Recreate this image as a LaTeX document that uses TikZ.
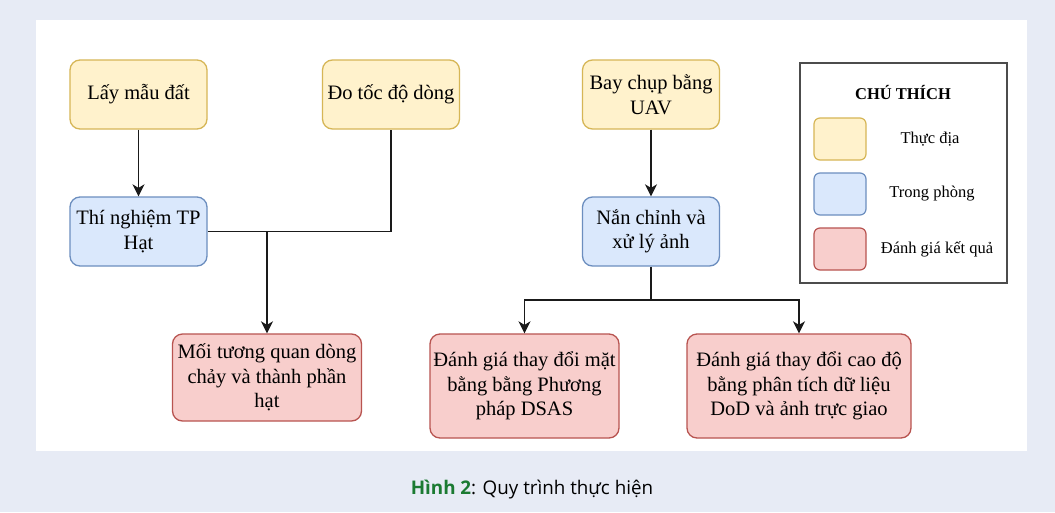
\documentclass[tikz,border=0pt]{standalone}
\usepackage{fontspec}
\setmainfont{Liberation Serif}
\newfontfamily\capfont{Open Sans}
\usetikzlibrary{arrows.meta}
\definecolor{bgc}{HTML}{E7EBF5}
\definecolor{yfill}{HTML}{FFF2CC}
\definecolor{ydraw}{HTML}{D6B656}
\definecolor{bfill}{HTML}{DAE8FC}
\definecolor{bdraw}{HTML}{6C8EBF}
\definecolor{rfill}{HTML}{F8CECC}
\definecolor{rdraw}{HTML}{B85450}
\definecolor{capgreen}{HTML}{1B7A32}
\definecolor{linec}{HTML}{1A1A1A}
\tikzset{
  box/.style={rounded corners=10pt, line width=1.3pt, align=center, inner sep=2pt,
    font=\fontsize{20.5}{24.5}\selectfont},
  ybox/.style={box, fill=yfill, draw=ydraw, minimum width=137pt, minimum height=69pt},
  bbox/.style={box, fill=bfill, draw=bdraw, minimum width=137pt, minimum height=69pt},
  rbox/.style={box, fill=rfill, draw=rdraw},
  swatch/.style={rounded corners=6pt, line width=1.2pt, minimum width=52pt, minimum height=42pt, inner sep=0pt},
  leglabel/.style={font=\fontsize{16.5}{18}\selectfont, inner sep=0pt},
  conn/.style={line width=1.8pt, draw=linec},
  arr/.style={conn, -{Stealth[length=12pt,width=12pt,inset=3.5pt]}},
}
\begin{document}
\begin{tikzpicture}[x=1pt,y=-1pt]
\useasboundingbox (0,0) rectangle (1055,512);
\fill[bgc] (0,0) rectangle (1055,512);
\fill[white] (36,20) rectangle (1027,451);

\node[ybox] (lay) at (138.5,94.5) {Lấy mẫu đất};
\node[ybox] (do) at (391,94.5) {Đo tốc độ dòng};
\node[ybox] (bay) at (651,94.5) {Bay chụp bằng\\UAV};
\node[bbox] (tn) at (138.5,231.5) {Thí nghiệm TP\\Hạt};
\node[bbox] (nan) at (651,231.5) {Nắn chỉnh và\\xử lý ảnh};
\node[rbox, minimum width=189pt, minimum height=87pt] (moi) at (267,377.5) {Mối tương quan dòng\\chảy và thành phần\\hạt};
\node[rbox, minimum width=189pt, minimum height=104pt] (mat) at (524.5,386) {Đánh giá thay đổi mặt\\bằng bằng Phương\\pháp DSAS};
\node[rbox, minimum width=224pt, minimum height=104pt] (cao) at (799,386) {Đánh giá thay đổi cao độ\\bằng phân tích dữ liệu\\DoD và ảnh trực giao};

\draw[arr] (lay) -- (tn);
\draw[conn] (tn.east) -- (tn.east -| do.south) -- (do.south);
\coordinate (j) at (moi.north |- tn.east);
\draw[arr] (j) -- (moi.north);
\draw[arr] (bay) -- (nan);
\coordinate (k) at (651,300);
\draw[conn] (nan.south) -- (k);
\draw[arr] (k) -| (mat.north);
\draw[arr] (k) -| (cao.north);

% legend
\node[draw=black!70, line width=1.3pt, minimum width=207pt, minimum height=220pt, inner sep=0pt] (leg) at (903.5,173) {};
\node[font=\fontsize{16.5}{18}\selectfont\bfseries] (legt) at (903,92) {CHÚ THÍCH};
\node[swatch, fill=yfill, draw=ydraw] (s1) at (840,139) {};
\node[swatch, fill=bfill, draw=bdraw] (s2) at (840,194) {};
\node[swatch, fill=rfill, draw=rdraw] (s3) at (840,249) {};
\node[leglabel] (l1) at (930,139) {Thực địa};
\node[leglabel] (l2) at (932,194) {Trong phòng};
\node[leglabel] (l3) at (937,249) {Đánh giá kết quả};

\node[font=\capfont\fontsize{18.8}{20}\selectfont, inner sep=0pt] (cap) at (532,490) {{\color{capgreen}\bfseries Hình 2}: Quy trình thực hiện};
\end{tikzpicture}
\end{document}
